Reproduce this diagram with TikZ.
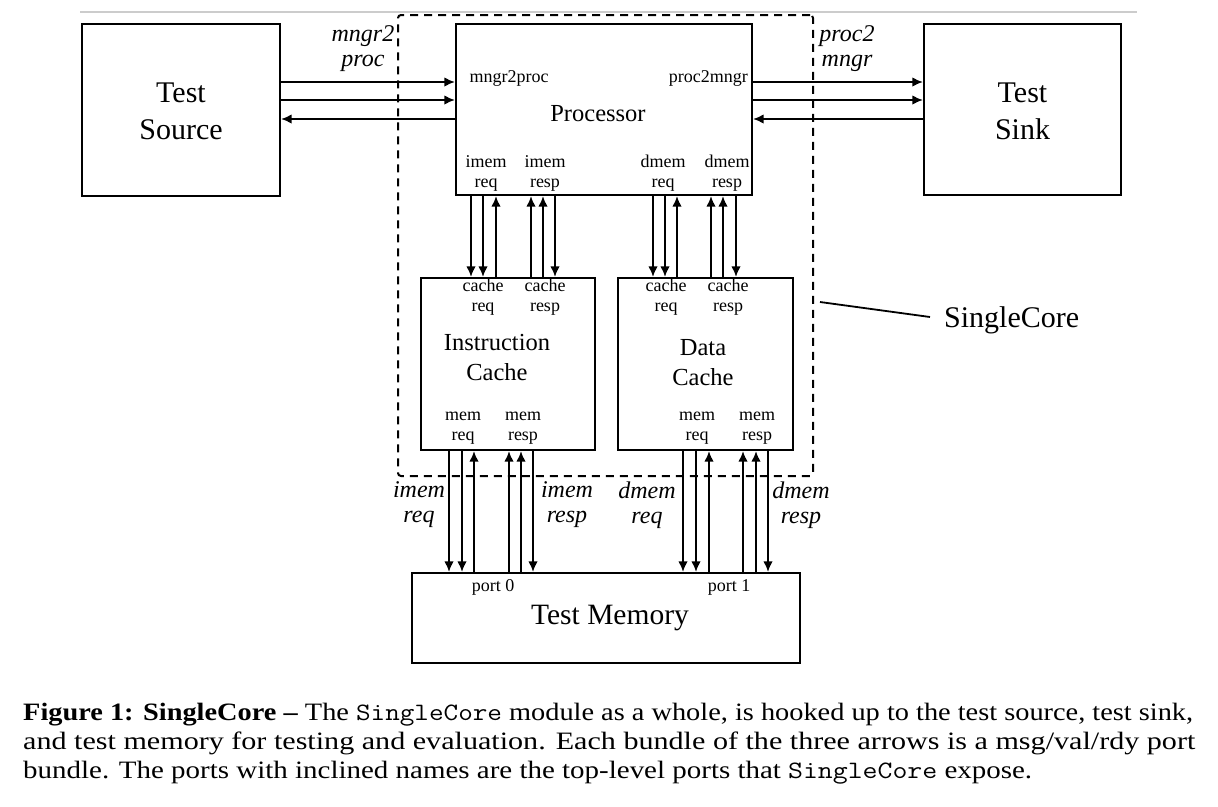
\documentclass[tikz,border=0pt]{standalone}
\usepackage{fontspec}
\setmainfont{Liberation Serif}
\usetikzlibrary{arrows.meta}
\tikzset{
  blk/.style={draw, line width=2.2pt, inner sep=0pt, rectangle},
  arr/.style={line width=1.8pt, -{Latex[length=10.5pt,width=9.5pt]}},
  big/.style={font=\fontsize{30}{37}\selectfont, align=center, inner sep=0pt},
  mid/.style={font=\fontsize{24.5}{30}\selectfont, align=center, inner sep=0pt},
  sml/.style={font=\fontsize{18}{20}\selectfont, align=center, inner sep=0pt},
  ital/.style={font=\fontsize{24}{25}\selectfont\itshape, align=center, inner sep=0pt},
  captxt/.style={font=\fontsize{25}{29}\selectfont, anchor=base west, inner sep=0pt},
}
\begin{document}
\begin{tikzpicture}[x=1pt,y=-1pt]
\useasboundingbox (0,0) rectangle (1218,806);
\fill[white] (0,0) rectangle (1218,806);
% thin gray top rule
\draw[gray!40, line width=1.2pt] (80,12) -- (1137,12);
% blocks
\node[blk, minimum width=198pt, minimum height=172pt] (src) at (181,110) {};
\node[blk, minimum width=296pt, minimum height=171pt] (proc) at (604,109.5) {};
\node[blk, minimum width=197pt, minimum height=171pt] (sink) at (1022.5,109.5) {};
\node[blk, minimum width=174pt, minimum height=172pt] (icache) at (508,364) {};
\node[blk, minimum width=175pt, minimum height=172pt] (dcache) at (705.5,364) {};
\node[blk, minimum width=388pt, minimum height=90pt] (mem) at (606,618) {};
% dashed SingleCore boundary
\node[draw, line width=2pt, dash pattern=on 8pt off 6pt, rounded corners=3pt, minimum width=415pt, minimum height=461pt, inner sep=0pt] (core) at (605.5,245.5) {};
% block titles
\node[big] (tsrc) at (181,111) {Test\\Source};
\node[big] (tsink) at (1022.5,111) {Test\\Sink};
\node[mid] (tproc) at (598,114) {Processor};
\node[mid] (tic) at (497,358) {Instruction\\Cache};
\node[mid] (tdc) at (703,363) {Data\\Cache};
\node[font=\fontsize{29.5}{30}\selectfont, inner sep=0pt] (tmem) at (610,618) {Test Memory};
% processor port labels
\node[sml] (pm2p) at (509,78) {mngr2proc};
\node[sml, anchor=east] (pp2m) at (748,78) {proc2mngr};
\node[sml] (pir) at (486,173) {imem\\req};
\node[sml] (pirs) at (545,173) {imem\\resp};
\node[sml] (pdr) at (663,173) {dmem\\req};
\node[sml] (pdrs) at (727,173) {dmem\\resp};
% cache port labels
\node[sml] (icr) at (483,297) {cache\\req};
\node[sml] (icrs) at (545,297) {cache\\resp};
\node[sml] (imr) at (463,428) {mem\\req};
\node[sml] (imrs) at (523,428) {mem\\resp};
\node[sml] (dcr) at (666,297) {cache\\req};
\node[sml] (dcrs) at (728,297) {cache\\resp};
\node[sml] (dmr) at (697,428) {mem\\req};
\node[sml] (dmrs) at (757,428) {mem\\resp};
% memory port labels
\node[sml] (p0) at (493,587) {port 0};
\node[sml] (p1) at (729,587) {port 1};
% top-level italic port labels
\node[ital] (lm2p) at (363,49) {mngr2\\proc};
\node[ital] (lp2m) at (847,49) {proc2\\mngr};
\node[ital] (lir) at (419,505) {imem\\req};
\node[ital] (lirs) at (567,505) {imem\\resp};
\node[ital] (ldr) at (647,505) {dmem\\req};
\node[ital] (ldrs) at (801,505) {dmem\\resp};
% SingleCore callout
\node[font=\fontsize{30}{36}\selectfont, anchor=west, inner sep=0pt] (lcore) at (944,320) {SingleCore};
\coordinate (cpt) at (820,302);
\draw[line width=1.8pt] (cpt) -- ([xshift=-14pt,yshift=3pt]lcore.west);
% source <-> processor
\draw[arr] (src.east |- 0,82) -- (proc.west |- 0,82);
\draw[arr] (src.east |- 0,100) -- (proc.west |- 0,100);
\draw[arr] (proc.west |- 0,119) -- (src.east |- 0,119);
% processor <-> sink
\draw[arr] (proc.east |- 0,82) -- (sink.west |- 0,82);
\draw[arr] (proc.east |- 0,100) -- (sink.west |- 0,100);
\draw[arr] (sink.west |- 0,119) -- (proc.east |- 0,119);
% processor <-> icache
\draw[arr] (proc.south -| 471,0) -- (icache.north -| 471,0);
\draw[arr] (proc.south -| 483,0) -- (icache.north -| 483,0);
\draw[arr] (icache.north -| 496,0) -- (proc.south -| 496,0);
\draw[arr] (icache.north -| 531,0) -- (proc.south -| 531,0);
\draw[arr] (icache.north -| 543,0) -- (proc.south -| 543,0);
\draw[arr] (proc.south -| 555,0) -- (icache.north -| 555,0);
% processor <-> dcache
\draw[arr] (proc.south -| 653,0) -- (dcache.north -| 653,0);
\draw[arr] (proc.south -| 665,0) -- (dcache.north -| 665,0);
\draw[arr] (dcache.north -| 677,0) -- (proc.south -| 677,0);
\draw[arr] (dcache.north -| 711,0) -- (proc.south -| 711,0);
\draw[arr] (dcache.north -| 723,0) -- (proc.south -| 723,0);
\draw[arr] (proc.south -| 736,0) -- (dcache.north -| 736,0);
% icache <-> memory
\draw[arr] (icache.south -| 449,0) -- (mem.north -| 449,0);
\draw[arr] (icache.south -| 462,0) -- (mem.north -| 462,0);
\draw[arr] (mem.north -| 474,0) -- (icache.south -| 474,0);
\draw[arr] (mem.north -| 509,0) -- (icache.south -| 509,0);
\draw[arr] (mem.north -| 521,0) -- (icache.south -| 521,0);
\draw[arr] (icache.south -| 533,0) -- (mem.north -| 533,0);
% dcache <-> memory
\draw[arr] (dcache.south -| 683,0) -- (mem.north -| 683,0);
\draw[arr] (dcache.south -| 696,0) -- (mem.north -| 696,0);
\draw[arr] (mem.north -| 709,0) -- (dcache.south -| 709,0);
\draw[arr] (mem.north -| 743,0) -- (dcache.south -| 743,0);
\draw[arr] (mem.north -| 756,0) -- (dcache.south -| 756,0);
\draw[arr] (dcache.south -| 768,0) -- (mem.north -| 768,0);
% caption
\node[captxt] (c1) at (23,720) {\resizebox{1170pt}{\height}{\textbf{Figure 1: SingleCore –} The \texttt{SingleCore} module as a whole, is hooked up to the test source, test sink,}};
\node[captxt] (c2) at (23,749) {\resizebox{1172pt}{\height}{and test memory for testing and evaluation. Each bundle of the three arrows is a msg/val/rdy port}};
\node[captxt] (c3) at (23,778) {\resizebox{1009pt}{\height}{bundle. The ports with inclined names are the top-level ports that \texttt{SingleCore} expose.}};
\end{tikzpicture}
\end{document}
